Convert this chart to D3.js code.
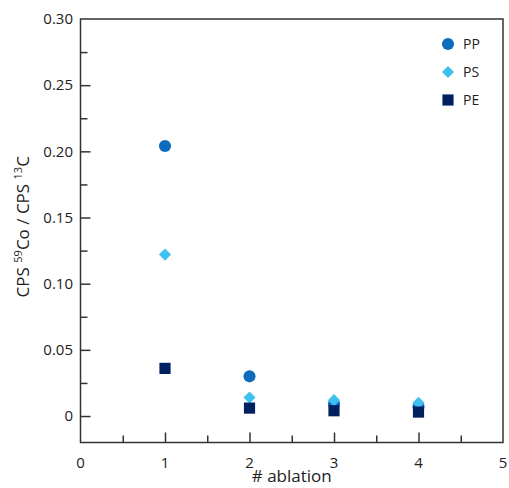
<!DOCTYPE html>
<html><head><meta charset="utf-8">
<script src="https://cdn.jsdelivr.net/npm/d3@7"></script>
<style>body{margin:0;background:#fff}svg{display:block}text{font-family:"Open Sans",sans-serif;fill:#222}</style>
</head><body><svg id="c" width="509" height="488"></svg>
<script>
const ablations = [1, 2, 3, 4];
const seriesNames = ["PP", "PS", "PE"];
const ppValues = [0.204, 0.030, 0.009, 0.007];
const psValues = [0.122, 0.014, 0.012, 0.010];
const peValues = [0.036, 0.006, 0.004, 0.003];
const xTicks = [0, 1, 2, 3, 4, 5];
const yTicks = [0, 0.05, 0.10, 0.15, 0.20, 0.25, 0.30];
const yTickLabels = ["0", "0.05", "0.10", "0.15", "0.20", "0.25", "0.30"];

const colors = {PP: "#0f6cbd", PS: "#3fc1ef", PE: "#002060"};
const shapes = {PP: d3.symbolCircle, PS: d3.symbolDiamond2, PE: d3.symbolSquare};
const sizes = {PP: 115, PS: 95, PE: 125};
const data = {PP: ppValues, PS: psValues, PE: peValues};

const svg = d3.select("#c");
const L = 80.5, R = 503, T = 19, B = 442.5;
const x = d3.scaleLinear().domain([0, 5]).range([L, R]);
const y = d3.scaleLinear().domain([-0.02, 0.30]).range([B, T]);

// frame
svg.append("rect").attr("x", L).attr("y", T).attr("width", R - L).attr("height", B - T)
  .attr("fill", "none").attr("stroke", "#333").attr("stroke-width", 1.5);

// x axis ticks (inward)
const xAxis = d3.axisBottom(x).tickValues(d3.range(0.5, 5, 1)).tickSize(-7).tickFormat("");
svg.append("g").attr("transform", `translate(0,${B})`).call(xAxis)
  .call(g => g.select(".domain").remove())
  .call(g => g.selectAll("line").attr("stroke", "#333").attr("stroke-width", 1.5));
const xAxisMaj = d3.axisBottom(x).tickValues(xTicks.slice(1, 5)).tickSize(-10).tickFormat("");
svg.append("g").attr("transform", `translate(0,${B})`).call(xAxisMaj)
  .call(g => g.select(".domain").remove())
  .call(g => g.selectAll("line").attr("stroke", "#333").attr("stroke-width", 1.5));
svg.append("g").selectAll("text").data(xTicks).join("text")
  .attr("x", d => x(d)).attr("y", 468).attr("text-anchor", "middle")
  .attr("font-size", 15).text(d => d);

// y axis ticks (inward)
const minorY = d3.range(0.025, 0.30, 0.05);
const yMinor = d3.axisLeft(y).tickValues(minorY).tickSize(-7).tickFormat("");
svg.append("g").attr("transform", `translate(${L},0)`).call(yMinor)
  .call(g => g.select(".domain").remove())
  .call(g => g.selectAll("line").attr("stroke", "#333").attr("stroke-width", 1.5));
const yMaj = d3.axisLeft(y).tickValues(yTicks.slice(0, 6)).tickSize(-10).tickFormat("");
svg.append("g").attr("transform", `translate(${L},0)`).call(yMaj)
  .call(g => g.select(".domain").remove())
  .call(g => g.selectAll("line").attr("stroke", "#333").attr("stroke-width", 1.5));
svg.append("g").selectAll("text").data(yTicks).join("text")
  .attr("x", 73).attr("y", d => y(d)).attr("dy", "0.35em").attr("text-anchor", "end")
  .attr("font-size", 15).text((d, i) => yTickLabels[i]);

// axis titles
svg.append("text").attr("x", (L + R) / 2).attr("y", 482).attr("text-anchor", "middle")
  .attr("font-size", 17).text("# ablation");
const yl = svg.append("text").attr("transform", `translate(29,${(T + B) / 2 - 4}) rotate(-90)`)
  .attr("text-anchor", "middle").attr("font-size", 17);
yl.append("tspan").text("CPS ");
yl.append("tspan").attr("font-size", 11).attr("dy", -7).text("59");
yl.append("tspan").attr("dy", 7).text("Co / CPS ");
yl.append("tspan").attr("font-size", 11).attr("dy", -7).text("13");
yl.append("tspan").attr("dy", 7).text("C");

// points (PP first, then PS, then PE on top)
seriesNames.forEach(name => {
  svg.append("g").selectAll("path").data(ablations).join("path")
    .attr("transform", (d, i) => `translate(${x(d)},${y(data[name][i])})`)
    .attr("d", d3.symbol().type(shapes[name]).size(sizes[name]))
    .attr("fill", colors[name]);
});

// legend
const legY = [44, 72, 100];
seriesNames.forEach((name, i) => {
  svg.append("path").attr("transform", `translate(448,${legY[i]})`)
    .attr("d", d3.symbol().type(shapes[name]).size(sizes[name])).attr("fill", colors[name]);
  svg.append("text").attr("x", 463).attr("y", legY[i]).attr("dy", "0.35em")
    .attr("font-size", 14).text(name);
});
</script></body></html>
